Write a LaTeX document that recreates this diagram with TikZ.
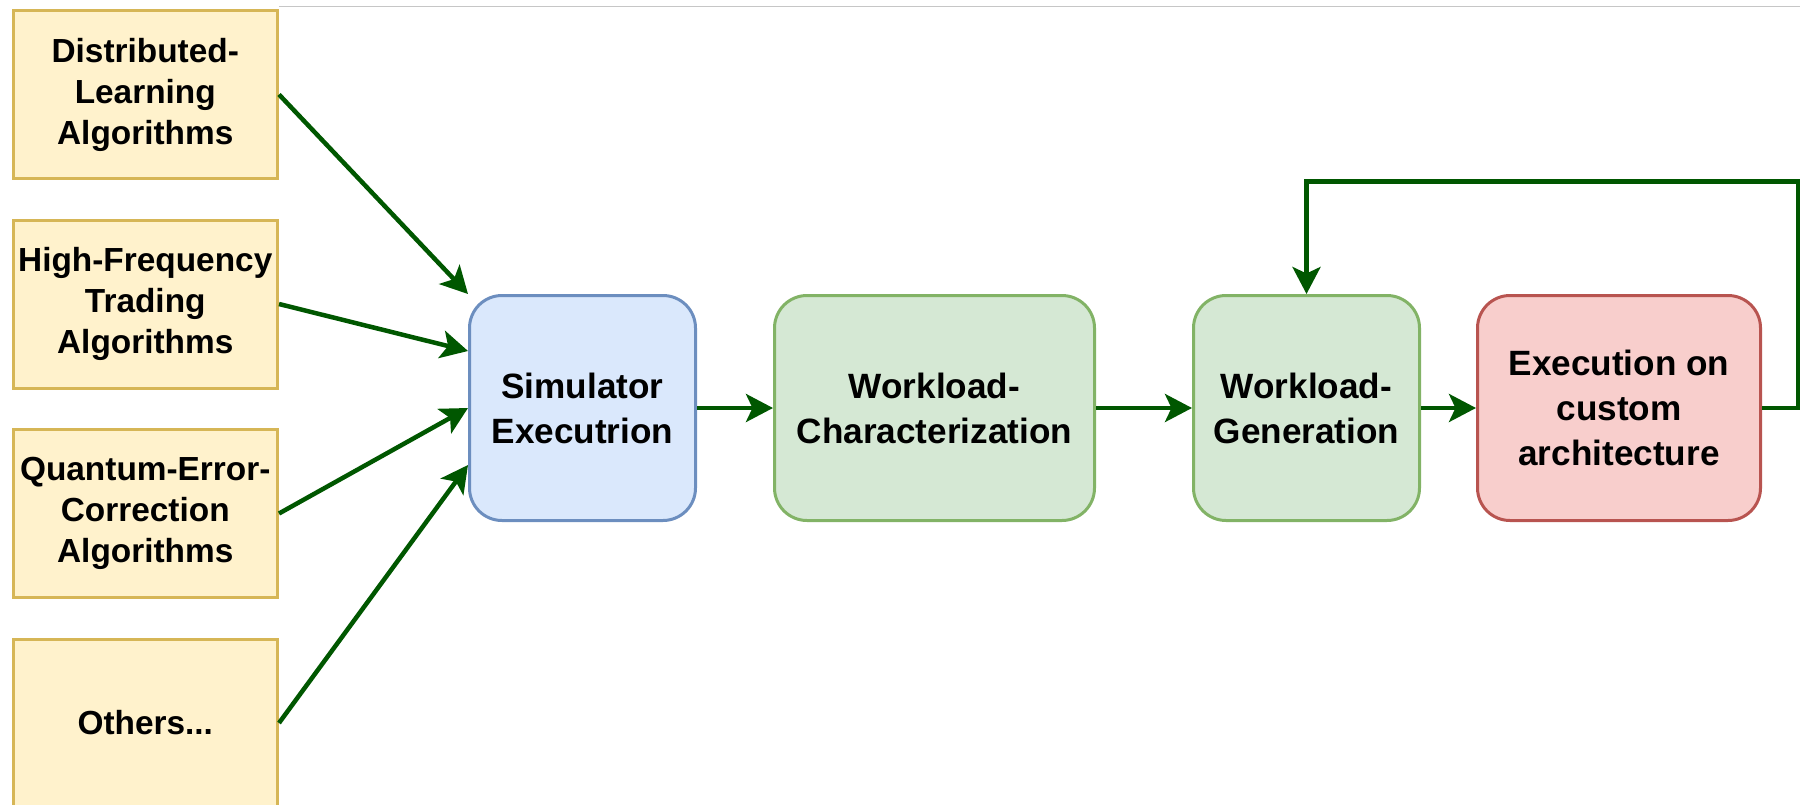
\documentclass[tikz,border=0pt]{standalone}
\usepackage{fontspec}
\setmainfont{Liberation Sans}
\usepackage{tikz}
\usetikzlibrary{arrows.meta, positioning}
\usepackage{xcolor}

\definecolor{algofill}{HTML}{FFF2CC}
\definecolor{algoline}{HTML}{D6B656}
\definecolor{simfill}{HTML}{DAE8FC}
\definecolor{simline}{HTML}{6C8EBF}
\definecolor{wlfill}{HTML}{D5E8D4}
\definecolor{wlline}{HTML}{82B366}
\definecolor{archfill}{HTML}{F8CECC}
\definecolor{archline}{HTML}{B85450}
\definecolor{flowgreen}{HTML}{005700}

\begin{document}
\begin{tikzpicture}[
    node distance=0.77cm and 1.52cm,
    every node/.style={draw, align=center, inner sep=1pt},
    algo/.style={fill=algofill, draw=algoline, line width=0.06cm,
        minimum width=5.29cm, minimum height=3.36cm,
        font=\fontsize{19}{23.3}\selectfont\bfseries},
    stage/.style={rounded corners=0.65cm, line width=0.06cm, minimum height=4.5cm,
        font=\fontsize{20}{25.6}\selectfont\bfseries},
    flow/.style={draw=flowgreen, line width=0.09cm,
        -{Stealth[length=0.54cm, width=0.56cm, inset=0.13cm]}}
    ]

    \useasboundingbox (0,0) rectangle (36,-16.08);

    % Nodes
    \node (dla) [algo] at (2.905,-1.89) {Distributed-\\Learning\\Algorithms};
    \node (hft) [algo, below=of dla] {High-Frequency\\Trading\\Algorithms};
    \node (qec) [algo, below=of hft] {Quantum-Error-\\Correction\\Algorithms};
    \node (others) [algo, below=of qec] {Others...};

    \node (sim) [stage, fill=simfill, draw=simline, minimum width=4.52cm] at (11.65,-8.16) {Simulator\\Executrion};
    \node (wc) [stage, fill=wlfill, draw=wlline, minimum width=6.40cm, right=of sim] {Workload-\\Characterization};
    \node (wg) [stage, fill=wlfill, draw=wlline, minimum width=4.52cm, right=1.92cm of wc] {Workload-\\Generation};
    \node (exec) [stage, fill=archfill, draw=archline, minimum width=5.66cm, right=1.10cm of wg] {Execution on\\custom\\architecture};

    % top rule
    \draw[gray!45, line width=0.5pt] (dla.east |- 0,-0.12) -- (36,-0.12);

    % Edges
    \draw[flow] (dla.east) -- (sim.north west);
    \draw[flow] (hft.east) -- ([yshift=-1.14cm]sim.north west);
    \draw[flow] (qec.east) -- (sim.west);
    \draw[flow] (others.east) -- ([yshift=1.14cm]sim.south west);

    \draw[flow] (sim) -- (wc);
    \draw[flow] (wc) -- (wg);
    \draw[flow] (wg) -- (exec);
    \draw[flow] (exec.east) -- ++(0.72cm,0) |- ([yshift=2.25cm]wg.north) -- (wg.north);

\end{tikzpicture}
\end{document}
